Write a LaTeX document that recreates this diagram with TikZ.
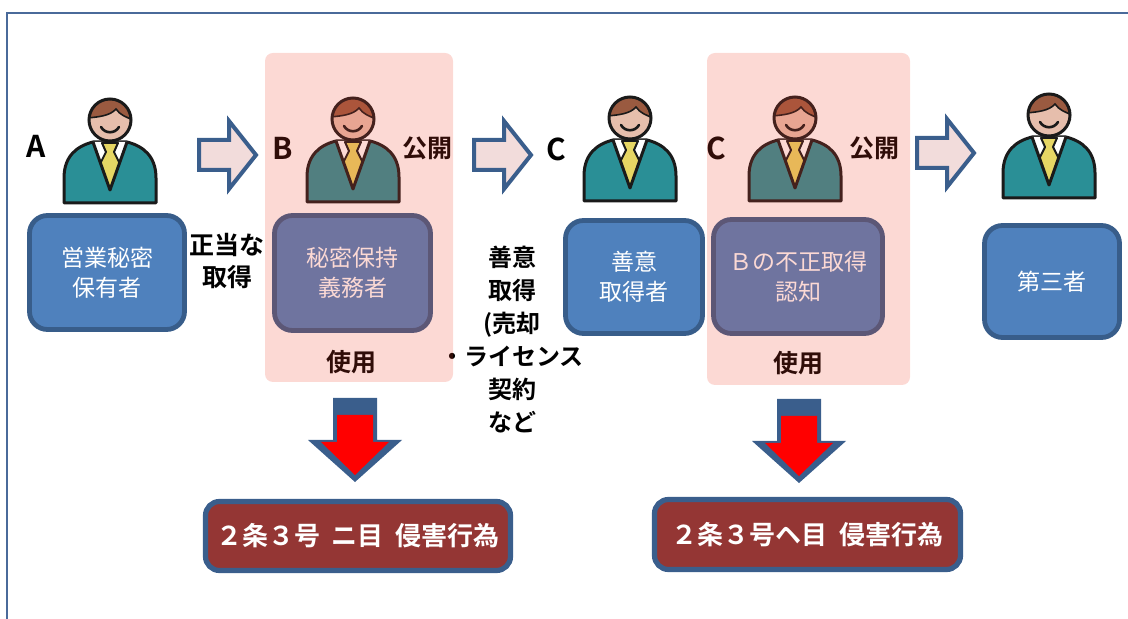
\documentclass[tikz,border=0pt]{standalone}
\usepackage{fontspec}
\usepackage{tikz}
\usetikzlibrary{positioning}
\newfontfamily\jp{Noto Sans CJK JP}[BoldFont={Noto Sans CJK JP Bold}]

\definecolor{boxblue}{HTML}{4F81BD}
\definecolor{boxline}{HTML}{385D8A}
\definecolor{suit}{HTML}{2A8F96}
\definecolor{tiecol}{HTML}{E6D664}
\definecolor{skin}{HTML}{E6BEAC}
\definecolor{hair}{HTML}{9A5A40}
\definecolor{inkline}{HTML}{1A1A1A}
\definecolor{panelred}{HTML}{F0412A}
\definecolor{arrowfill}{HTML}{F2DCDB}
\definecolor{arrowline}{HTML}{3A5E8C}
\definecolor{verdictred}{HTML}{943634}
\definecolor{framecol}{HTML}{4A6A9A}

\tikzset{
    holder/.style = {draw=boxline, fill=boxblue, line width=2.4pt, rounded corners=9pt,
        text=white, align=center, font=\jp\fontsize{11.5}{15}\selectfont},
    letter/.style = {font=\jp\bfseries\fontsize{15}{18}\selectfont},
    remark/.style = {font=\jp\bfseries\fontsize{12.5}{16}\selectfont, align=center},
    verdict/.style = {draw=arrowline, fill=verdictred, line width=2.6pt, rounded corners=7pt,
        text=white, font=\jp\bfseries\fontsize{13}{15}\selectfont},
    panel/.style = {fill=panelred, fill opacity=0.2, rounded corners=4pt},
}
\tikzset{
    person/.pic = {
        \filldraw[fill=suit, draw=inkline, line width=1.5pt, line join=round]
            (-46,83) -- (-46,58) .. controls (-46,36) and (-33,26) .. (-17,22)
            -- (17,22) .. controls (33,26) and (46,36) .. (46,58) -- (46,83) -- cycle;
        \fill[white] (-17,22) -- (17,22) -- (0,70) -- cycle;
        \begin{scope}
            \clip (-17,22) -- (17,22) -- (0,70) -- cycle;
            \filldraw[fill=tiecol, draw=inkline, line width=1pt, line join=round]
                (-8,23) -- (8,23) -- (4,32) -- (12,48) -- (0,70) -- (-12,48) -- (-4,32) -- cycle;
        \end{scope}
        \draw[inkline, line width=1.5pt, line join=round] (-17,22) -- (0,70) -- (17,22);
        \fill[skin] (0,0) circle (21);
        \begin{scope}
            \clip (0,0) circle (21);
            \fill[hair] (-23,-2) .. controls (-12,-3) and (0,-4) .. (6,-11)
                .. controls (10,-5) and (16,-3) .. (23,0) -- (23,-23) -- (-23,-23) -- cycle;
            \draw[inkline, line width=0.8pt] (-23,-2) .. controls (-12,-3) and (0,-4) .. (6,-11)
                .. controls (10,-5) and (16,-3) .. (23,0);
        \end{scope}
        \draw[inkline, line width=1.5pt] (0,0) circle (21);
        \draw[inkline, line width=1.3pt, line cap=round] (-9,7) .. controls (-5,14) and (5,14) .. (9,7);
    },
    handover/.pic = {
        \filldraw[fill=arrowfill, draw=arrowline, line width=2pt]
            (0,-15) -- (30,-15) -- (30,-34) -- (57,0) -- (30,34) -- (30,15) -- (0,15) -- cycle;
    },
    fallsto/.pic = {
        \fill[arrowline] (-22,0) -- (22,0) -- (22,42) -- (47,42) -- (0,84) -- (-47,42) -- (-22,42) -- cycle;
        \fill[red] (-18,17) -- (18,17) -- (18,44) -- (34,44) -- (0,77) -- (-34,44) -- (-18,44) -- cycle;
    },
}

\begin{document}
\begin{tikzpicture}[x=0.5pt, y=-0.5pt]
    \useasboundingbox (0,0) rectangle (1128,619);
    \draw[framecol, line width=1.1pt] (7,619) -- (7,13) -- (1128,13);

    \pic (pa) at (110,120) {person};
    \pic (pb) at (353,119) {person};
    \pic (pc) at (630,118) {person};
    \pic (pc2) at (795,118) {person};
    \pic (pd) at (1049,115) {person};

    \pic at (199,155) {handover};
    \pic at (474,155) {handover};
    \pic at (917,153) {handover};

    \node[letter] (la) at (36,146) {A};
    \node[letter] (lb) at (283,148) {B};
    \node[letter] (lc) at (556,149) {C};
    \node[letter] (lc2) at (716,148) {C};
    \node[remark] (open1) at (427,148) {公開};
    \node[remark] (open2) at (874,148) {公開};

    \node[holder, minimum width=77.5pt, minimum height=57pt] (a) at (107,272.5) {営業秘密\\保有者};
    \node[holder, minimum width=78pt, minimum height=57.5pt] (b) at (352.5,273) {秘密保持\\義務者};
    \node[holder, minimum width=68.5pt, minimum height=56.5pt] (c) at (634,277) {善意\\取得者};
    \node[holder, minimum width=84.5pt, minimum height=57pt] (c2) at (798,276.5) {Ｂの不正取得\\認知};
    \node[holder, minimum width=67.5pt, minimum height=56pt] (d) at (1052,281.5) {第三者};

    \node[remark, font=\jp\bfseries\fontsize{12.5}{16}\selectfont] (lawful) at (227,261) {正当な\\取得};
    \node[remark, font=\jp\bfseries\fontsize{12}{16.5}\selectfont] (goodfaith) at (512,340)
        {善意\\取得\\(売却\\・ライセンス\\契約\\など};
    \node[remark] (use1) at (351,362) {使用};
    \node[remark] (use2) at (798,363) {使用};

    \pic at (355,398) {fallsto};
    \pic at (799,399) {fallsto};

    \node[verdict, minimum width=152.5pt, minimum height=34.5pt] (v1) at (358,536)
        {２条３号\hspace{0.45em}ニ目\hspace{0.45em}侵害行為};
    \node[verdict, minimum width=153pt, minimum height=35pt] (v2) at (807.5,534.5)
        {２条３号ヘ目\hspace{0.45em}侵害行為};

    \fill[panel] (265,53) rectangle (453,382);
    \fill[panel] (707,53) rectangle (910,385);
\end{tikzpicture}
\end{document}
